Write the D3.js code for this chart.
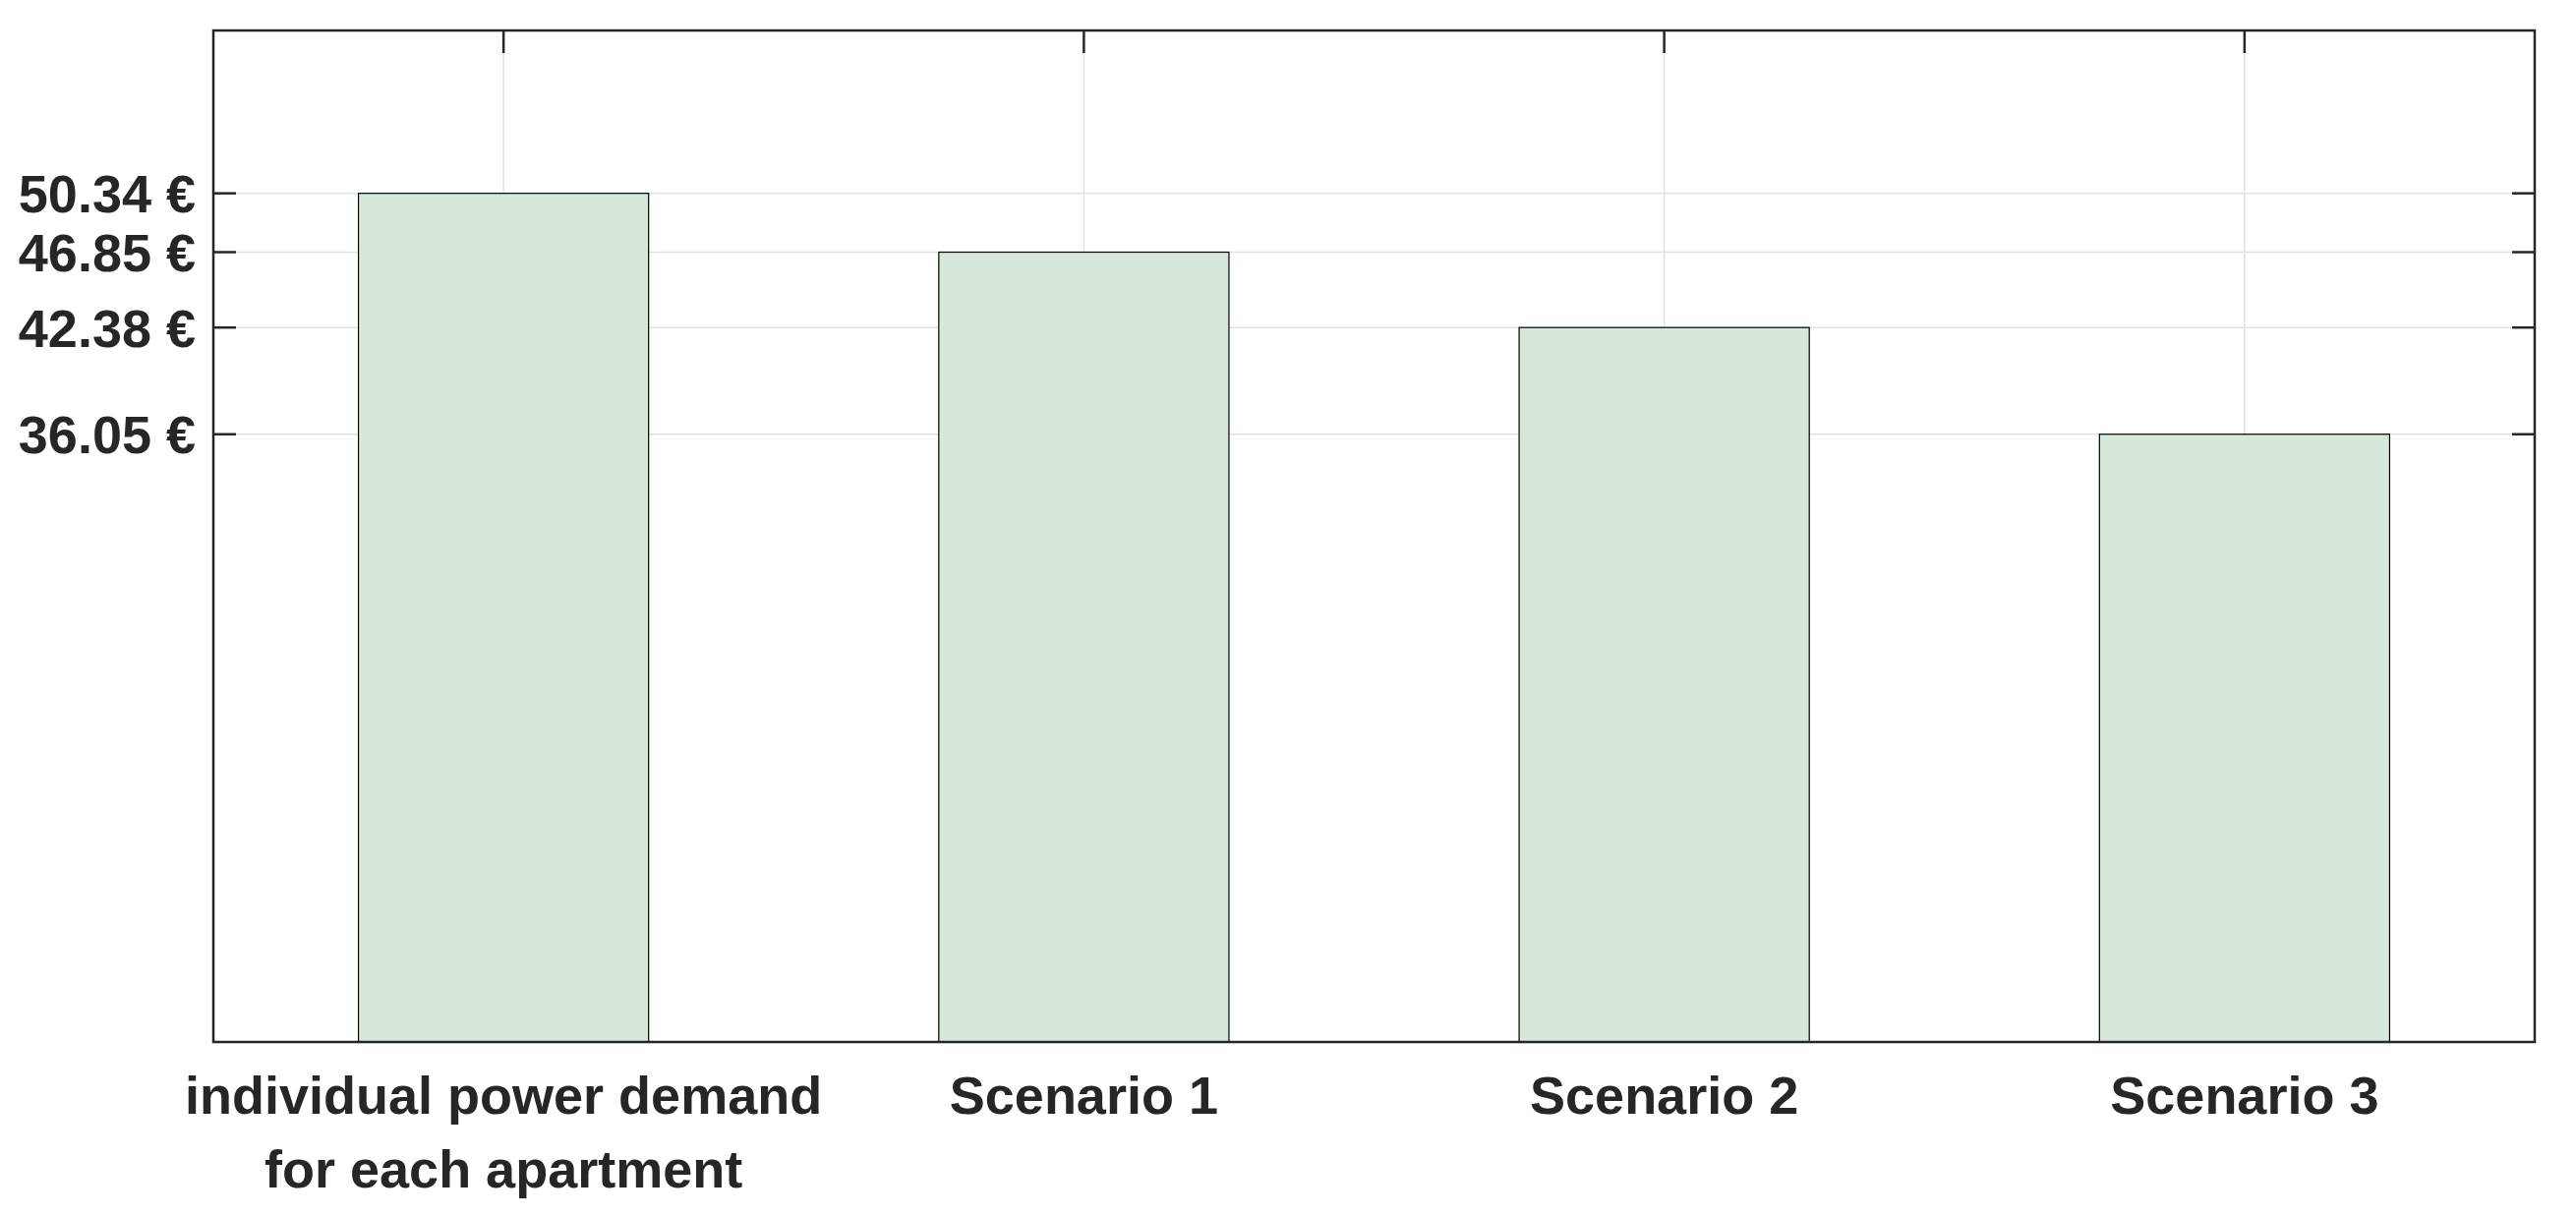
<!DOCTYPE html>
<html><head><meta charset="utf-8">
<script src="https://cdn.jsdelivr.net/npm/d3@7"></script>
<style>body{margin:0;background:#fff}</style></head>
<body><svg id="c" width="2620" height="1237"></svg>
<script>
const categories = [["individual power demand","for each apartment"],["Scenario 1"],["Scenario 2"],["Scenario 3"]];
const values = [50.34, 46.85, 42.38, 36.05];
const yTicks = [36.05, 42.38, 46.85, 50.34];

const svg = d3.select("#c");
const L=217,R=2578,T=31,B=1060;
const x = d3.scaleBand().domain(d3.range(categories.length)).range([L,R]).paddingInner(0.5).paddingOuter(0.25);
const y = d3.scaleLinear().domain([0,60]).range([B,T]);
const col="#262626";

svg.append("g").selectAll("line").data(yTicks).join("line")
  .attr("x1",L).attr("x2",R).attr("y1",d=>y(d)).attr("y2",d=>y(d)).attr("stroke","#e2e2e2").attr("stroke-width",1.5);
svg.append("g").selectAll("line").data(d3.range(categories.length)).join("line")
  .attr("x1",d=>x(d)+x.bandwidth()/2).attr("x2",d=>x(d)+x.bandwidth()/2).attr("y1",T).attr("y2",B).attr("stroke","#e2e2e2").attr("stroke-width",1.5);

svg.append("g").selectAll("rect").data(values).join("rect")
  .attr("x",(d,i)=>x(i)).attr("width",x.bandwidth())
  .attr("y",d=>y(d)).attr("height",d=>B-y(d))
  .attr("fill","#d6e8da").attr("stroke","#000").attr("stroke-width",1.2);

svg.append("rect").attr("x",L).attr("y",T).attr("width",R-L).attr("height",B-T)
  .attr("fill","none").attr("stroke",col).attr("stroke-width",2.5);

const tl=23;
svg.append("g").selectAll("line").data(yTicks).join("line")
  .attr("x1",L).attr("x2",L+tl).attr("y1",d=>y(d)).attr("y2",d=>y(d)).attr("stroke",col).attr("stroke-width",2.5);
svg.append("g").selectAll("line").data(yTicks).join("line")
  .attr("x1",R-tl).attr("x2",R).attr("y1",d=>y(d)).attr("y2",d=>y(d)).attr("stroke",col).attr("stroke-width",2.5);
svg.append("g").selectAll("line").data(d3.range(categories.length)).join("line")
  .attr("x1",d=>x(d)+x.bandwidth()/2).attr("x2",d=>x(d)+x.bandwidth()/2).attr("y1",T).attr("y2",T+tl).attr("stroke",col).attr("stroke-width",2.5);

svg.append("g").selectAll("text").data(yTicks).join("text")
  .attr("x",199).attr("y",d=>y(d)).attr("dy","0.36em").attr("text-anchor","end")
  .attr("font-family","Liberation Sans, Arial, sans-serif").attr("font-weight","bold").attr("font-size",54)
  .attr("fill",col).text(d=>d.toFixed(2)+" €");

const xl = svg.append("g").selectAll("text").data(categories).join("text")
  .attr("x",(d,i)=>x(i)+x.bandwidth()/2).attr("y",1133).attr("text-anchor","middle")
  .attr("font-family","Liberation Sans, Arial, sans-serif").attr("font-weight","bold").attr("font-size",54).attr("fill",col);
xl.selectAll("tspan").data(d=>d).join("tspan")
  .attr("x",function(){return this.parentNode.getAttribute("x");})
  .attr("dy",(d,i)=>i?75:0).text(d=>d);
</script></body></html>
